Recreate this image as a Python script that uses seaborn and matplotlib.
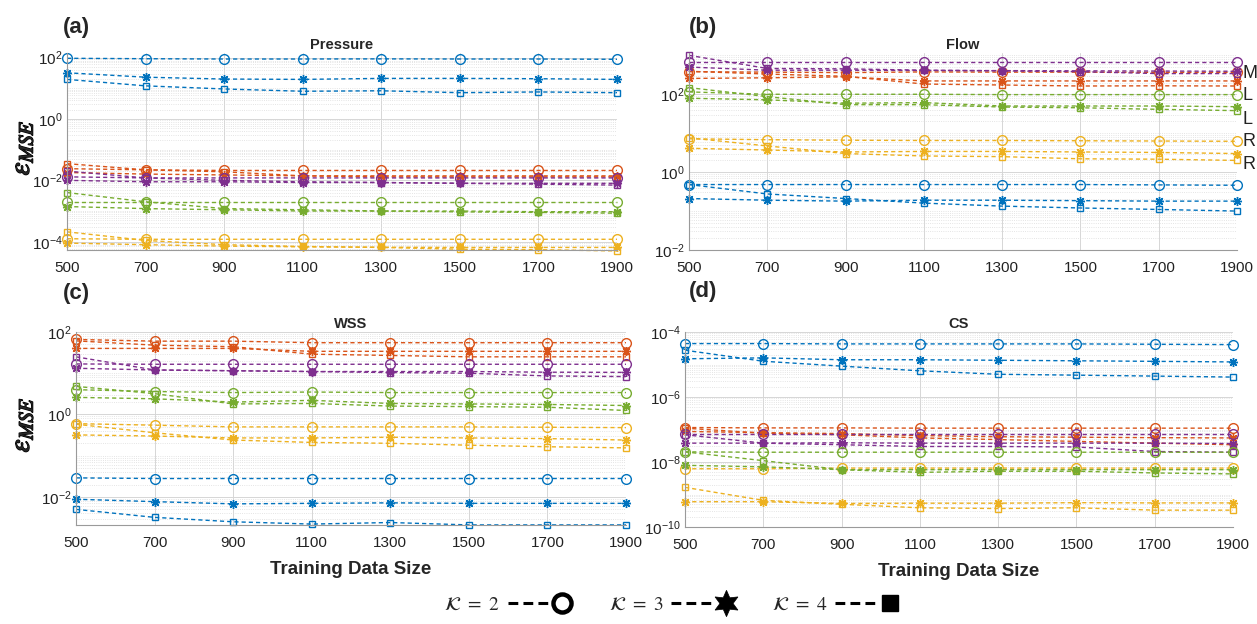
import numpy as np
import matplotlib
matplotlib.use("Agg")
import matplotlib.pyplot as plt
import seaborn as sns
from matplotlib.lines import Line2D
from matplotlib.legend_handler import HandlerBase
from matplotlib.ticker import FixedLocator, LogLocator, NullFormatter, LogFormatterSciNotation
import matplotlib.patheffects as pe

# ---- data (rows: K=2, K=3, K=4) ----
sizes = [500, 700, 900, 1100, 1300, 1500, 1700, 1900]
k_values = [2, 3, 4]

# Pressure
p_blue = [[95, 92, 90, 90, 91, 90, 90, 88],
          [32, 23, 20, 19.5, 21, 21, 20.5, 19.5],
          [19.5, 12, 9.5, 8, 8.3, 7.2, 7.6, 7.2]]
p_red = [[0.024, 0.022, 0.021, 0.021, 0.021, 0.021, 0.021, 0.021],
         [0.018, 0.016, 0.015, 0.014, 0.014, 0.014, 0.014, 0.014],
         [0.035, 0.022, 0.019, 0.014, 0.013, 0.013, 0.013, 0.013]]
p_purple = [[0.013, 0.012, 0.012, 0.012, 0.012, 0.012, 0.012, 0.012],
            [0.010, 0.009, 0.009, 0.0085, 0.0085, 0.008, 0.008, 0.008],
            [0.020, 0.012, 0.010, 0.009, 0.0085, 0.008, 0.0075, 0.007]]
p_green = [[0.0019, 0.0019, 0.0019, 0.0019, 0.0019, 0.0019, 0.0019, 0.0019],
           [0.0014, 0.0012, 0.0011, 0.001, 0.001, 0.001, 0.00095, 0.00095],
           [0.004, 0.002, 0.0012, 0.0011, 0.001, 0.00094, 0.0009, 0.00085]]
p_yellow = [[1.25e-4, 1.2e-4, 1.2e-4, 1.2e-4, 1.2e-4, 1.2e-4, 1.2e-4, 1.2e-4],
            [9e-5, 8e-5, 7.2e-5, 6.8e-5, 6.6e-5, 6.5e-5, 6.5e-5, 6.5e-5],
            [2.1e-4, 1.1e-4, 8e-5, 7e-5, 6.5e-5, 5.7e-5, 5.5e-5, 5e-5]]

# Flow
f_blue = [[0.48, 0.48, 0.48, 0.48, 0.48, 0.48, 0.47, 0.46],
          [0.21, 0.19, 0.18, 0.19, 0.19, 0.185, 0.18, 0.18],
          [0.48, 0.275, 0.21, 0.16, 0.134, 0.12, 0.11, 0.10]]
f_red = [[380, 370, 360, 375, 370, 370, 365, 365],
         [255, 265, 280, 220, 220, 220, 220, 220],
         [390, 330, 290, 183, 173, 163, 165, 163]]
f_purple = [[680, 680, 680, 680, 680, 680, 680, 680],
            [500, 415, 415, 410, 405, 400, 395, 390],
            [1000, 460, 450, 415, 400, 380, 340, 340]]
f_green = [[115, 100, 100, 100, 98, 98, 98, 98],
           [79, 72, 59, 61, 50, 50, 50, 48],
           [148, 87, 54, 54, 47, 45, 41, 38]]
f_yellow = [[7.2, 6.8, 6.6, 6.5, 6.5, 6.4, 6.3, 6.2],
            [4.1, 3.7, 3.3, 3.4, 3.4, 3.3, 3.2, 3.0],
            [7.6, 4.7, 3.0, 2.6, 2.5, 2.2, 2.15, 2.0]]

# WSS
w_blue = [[0.029, 0.028, 0.028, 0.028, 0.028, 0.028, 0.028, 0.028],
          [0.0088, 0.0077, 0.0068, 0.007, 0.0072, 0.007, 0.007, 0.007],
          [0.005, 0.0032, 0.0025, 0.0022, 0.0024, 0.0021, 0.0021, 0.0021]]
w_red = [[66, 60, 60, 55, 55, 55, 55, 55],
         [40, 40, 40, 34, 34, 34, 34, 34],
         [61, 48, 44, 29, 27, 25, 25, 25]]
w_purple = [[16.8, 16.5, 16.5, 16.5, 16.5, 16.5, 16.5, 16.5],
            [13.2, 12, 11.5, 11, 11, 11, 10.6, 10.5],
            [25, 12, 11.5, 11, 10.4, 10, 8.6, 8.3]]
w_green = [[4.0, 3.6, 3.4, 3.5, 3.4, 3.4, 3.4, 3.4],
           [2.6, 2.4, 2.0, 2.2, 1.85, 1.8, 1.75, 1.65],
           [4.8, 3.2, 1.8, 1.85, 1.6, 1.55, 1.5, 1.25]]
w_yellow = [[0.6, 0.55, 0.5, 0.5, 0.5, 0.5, 0.49, 0.48],
            [0.32, 0.3, 0.27, 0.27, 0.28, 0.27, 0.26, 0.24],
            [0.58, 0.36, 0.24, 0.21, 0.2, 0.18, 0.165, 0.155]]

# CS
c_blue = [[4.4e-5, 4.4e-5, 4.3e-5, 4.3e-5, 4.3e-5, 4.3e-5, 4.2e-5, 4.1e-5],
          [1.5e-5, 1.6e-5, 1.4e-5, 1.4e-5, 1.35e-5, 1.3e-5, 1.25e-5, 1.2e-5],
          [2.75e-5, 1.26e-5, 8.9e-6, 6.4e-6, 5.0e-6, 4.7e-6, 4.4e-6, 4.1e-6]]
c_red = [[1.15e-7, 1.12e-7, 1.12e-7, 1.1e-7, 1.1e-7, 1.1e-7, 1.1e-7, 1.1e-7],
         [8.7e-8, 8e-8, 7.5e-8, 6.5e-8, 6e-8, 5.8e-8, 5.6e-8, 5.5e-8],
         [1.1e-7, 7.7e-8, 6.9e-8, 5.5e-8, 4.9e-8, 4.3e-8, 3.8e-8, 3.4e-8]]
c_purple = [[7.4e-8, 7.4e-8, 7.4e-8, 7.4e-8, 7.4e-8, 7.4e-8, 7.4e-8, 7.4e-8],
            [3.8e-8, 3.8e-8, 3.9e-8, 3.8e-8, 3.8e-8, 3.8e-8, 3.8e-8, 3.7e-8],
            [6.9e-8, 3.8e-8, 3.4e-8, 3.0e-8, 3.0e-8, 2.9e-8, 2.1e-8, 2.0e-8]]
c_green = [[2.05e-8, 2.0e-8, 2.0e-8, 2.0e-8, 2.0e-8, 2.0e-8, 2.0e-8, 2.0e-8],
           [7.9e-9, 7.1e-9, 5.8e-9, 5.8e-9, 5.8e-9, 5.8e-9, 5.8e-9, 5.8e-9],
           [2.05e-8, 1.1e-8, 5.8e-9, 4.8e-9, 5.2e-9, 5.2e-9, 4.6e-9, 4.3e-9]]
c_yellow = [[6.2e-9, 6.2e-9, 6.5e-9, 6.5e-9, 6.5e-9, 6.5e-9, 6.5e-9, 6.5e-9],
            [6e-10, 6e-10, 5.3e-10, 5.4e-10, 5.4e-10, 5.6e-10, 5.5e-10, 5.5e-10],
            [1.66e-9, 6.6e-10, 5e-10, 3.9e-10, 3.7e-10, 3.9e-10, 3.3e-10, 3.3e-10]]

legend_letters = ["M", "L", "L", "R", "R"]

# MATLAB default colours
BLUE, RED, YELLOW, PURPLE, GREEN = "#0072BD", "#D95319", "#EDB120", "#7E2F8E", "#77AC30"
STAR = (8, 2, 0)
k_markers = ["o", STAR, "s"]
k_msize = [7, 6.5, 5]

# ---- style ----
sns.set_style("white")
plt.rcParams["font.family"] = ["Liberation Sans", "DejaVu Sans"]
plt.rcParams["mathtext.fontset"] = "stix"
plt.rcParams["lines.dashed_pattern"] = [3.0, 2.2]

fig = plt.figure(figsize=(12.57, 6.24), dpi=100)
W, H = 1257, 624


def box(x0, x1, ytop, ybot):
    return [x0 / W, 1 - ybot / H, (x1 - x0) / W, (ybot - ytop) / H]


panels = [
    ("Pressure", box(67, 617, 53, 250), (10 ** -4.27, 10 ** 2.15), [1e-4, 1e-2, 1, 1e2],
     [p_blue, p_red, p_yellow, p_purple, p_green]),
    ("Flow", box(689, 1237, 53, 250), (1e-2, 10 ** 3.06), [1e-2, 1, 1e2],
     [f_blue, f_red, f_yellow, f_purple, f_green]),
    ("WSS", box(76, 626, 332, 525), (10 ** -2.68, 1e2), [1e-2, 1, 1e2],
     [w_blue, w_red, w_yellow, w_purple, w_green]),
    ("CS", box(685, 1233, 332, 527), (1e-10, 1e-4), [1e-10, 1e-8, 1e-6, 1e-4],
     [c_blue, c_red, c_yellow, c_purple, c_green]),
]
colors = [BLUE, RED, YELLOW, PURPLE, GREEN]

axes = []
for title, rect, ylim, majors, series in panels:
    ax = fig.add_axes(rect)
    for col, rows in zip(colors, series):
        for vals, mk, ms in zip(rows, k_markers, k_msize):
            sns.lineplot(x=sizes, y=vals, ax=ax, color=col, linestyle="--", lw=1.0,
                         marker=mk, markersize=ms, markerfacecolor="none",
                         markeredgecolor=col, markeredgewidth=1.0, clip_on=False)
    ax.set_yscale("log")
    ax.set_xlim(500, 1900)
    ax.set_ylim(*ylim)
    ax.set_xticks(sizes)
    ax.yaxis.set_major_locator(FixedLocator(majors))
    ax.yaxis.set_major_formatter(LogFormatterSciNotation())
    ax.yaxis.set_minor_locator(LogLocator(base=10, subs=np.arange(1, 10), numticks=200))
    ax.yaxis.set_minor_formatter(NullFormatter())
    ax.grid(True, which="major", color="#d6d6d6", lw=0.7)
    ax.grid(True, which="minor", axis="y", color="#dcdcdc", lw=0.6, ls=":")
    ax.set_axisbelow(True)
    for s in ["top", "right"]:
        ax.spines[s].set_visible(False)
    for s in ["left", "bottom"]:
        ax.spines[s].set_color("#9a9a9a")
        ax.spines[s].set_linewidth(0.8)
    ax.tick_params(axis="both", which="major", direction="in", length=3, labelsize=11,
                   colors="#9a9a9a", labelcolor="#222222")
    ax.tick_params(axis="x", which="major", pad=8)
    ax.tick_params(axis="y", which="major", pad=3)
    ax.tick_params(axis="y", which="minor", direction="in", length=1.5, colors="#9a9a9a")
    ax.set_title(title, fontsize=10.5, fontweight="bold", pad=3)
    axes.append(ax)

for ax in axes[2:]:
    ax.set_xlabel("Training Data Size", fontsize=13.5, fontweight="bold", labelpad=8)

# panel letters
for lab, x, y in [("(a)", 76, 28), ("(b)", 703, 28), ("(c)", 76, 293), ("(d)", 703, 292)]:
    fig.text(x / W, 1 - y / H, lab, fontsize=16, fontweight="bold", ha="center", va="center")

# y labels
for y in [148, 425]:
    fig.text(21 / W, 1 - y / H, r"$\varepsilon_{MSE}$", fontsize=21, rotation=90,
             ha="center", va="center",
             path_effects=[pe.withStroke(linewidth=1.0, foreground="black")])

# right-hand legend letters (cut off at the figure edge in the original)
for i, letter in enumerate(legend_letters):
    fig.text(1243 / W, 1 - (73 + 23 * i) / H, letter, fontsize=13, ha="left", va="center",
             color="#222222")


# bottom legend: dashes followed by marker
class DashThenMarker(HandlerBase):
    def create_artists(self, legend, orig_handle, xdescent, ydescent, width, height,
                       fontsize, trans):
        y = height / 2 - ydescent
        x0 = -xdescent
        line = Line2D([x0, x0 + 0.66 * width], [y, y], color="black", lw=2.2,
                      linestyle=(0, (3.2, 1.7)))
        mk = Line2D([x0 + 0.88 * width], [y])
        mk.update_from(orig_handle)
        mk.set_linestyle("none")
        line.set_transform(trans)
        mk.set_transform(trans)
        return [line, mk]


leg_handles = [
    Line2D([], [], marker="o", ms=13, mfc="none", mec="black", mew=3.2),
    Line2D([], [], marker=(6, 1, 0), ms=19, mfc="black", mec="black", mew=0.5),
    Line2D([], [], marker="s", ms=12, mfc="black", mec="black"),
]
leg_labels = [r"$\mathcal{K}\ =\ %d$" % k for k in k_values]
fig.legend(leg_handles, leg_labels, loc="center", bbox_to_anchor=(671 / W, 1 - 605 / H),
           ncol=3, frameon=False, markerfirst=False, fontsize=14, handlelength=3.2,
           handletextpad=0.4, columnspacing=2.0,
           handler_map={Line2D: DashThenMarker()})

fig.savefig("out.png", dpi=100)
